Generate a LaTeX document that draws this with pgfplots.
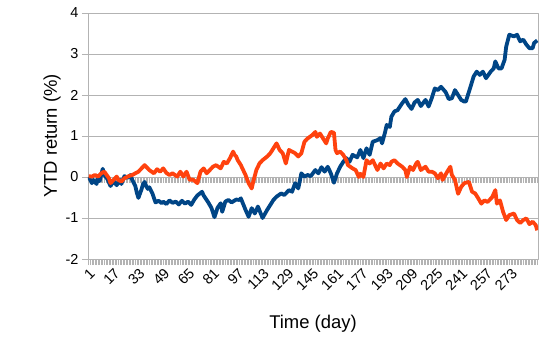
\documentclass[border=0pt]{standalone}
\usepackage{fontspec}
\setmainfont{Liberation Sans}
\usepackage{pgfplots}
\pgfplotsset{compat=1.18}
\definecolor{sone}{HTML}{004586}
\definecolor{stwo}{HTML}{FF420E}
\definecolor{gridc}{HTML}{B3B3B3}
\begin{document}
\begin{tikzpicture}
% extra tick row on the zero line
\begin{axis}[scale only axis, width=450bp, height=164bp,
  at={(0bp,82bp)}, anchor=south west,
  xmin=0.5, xmax=290.5, ymin=0, ymax=4,
  xtick={1,17,...,273}, minor xtick={1,...,290}, xticklabels={},
  ytick=\empty, xtick pos=bottom, tick align=outside,
  major tick length=6bp, minor tick length=6bp,
  tick style={gridc, line width=0.6bp},
  axis line style={draw=none}]
\end{axis}
\begin{axis}[name=ax, scale only axis, width=450bp, height=246bp,
  at={(0bp,0bp)}, anchor=south west,
  xmin=0.5, xmax=290.5, ymin=-2, ymax=4,
  ytick={-2,...,4}, ymajorgrids,
  grid style={gridc, line width=0.8bp},
  axis line style={gridc, line width=0.8bp},
  xtick={1,17,...,273}, minor xtick={1,...,290},
  xtick pos=bottom, ytick pos=left, tick align=outside,
  major tick length=6bp, minor tick length=6bp,
  tick style={gridc, line width=0.6bp},
  /pgf/number format/assume math mode=true,
  xticklabel style={rotate=45, anchor=north east, font=\fontsize{14.5}{14.5}\selectfont, inner sep=1.5bp},
  yticklabel style={font=\fontsize{14.5}{14.5}\selectfont},
  xlabel={Time (day)}, ylabel={YTD return (\%)},
  label style={font=\fontsize{18.5}{18.5}\selectfont},
  xlabel style={yshift=-18bp},
  ylabel style={yshift=-2bp},
  line join=round]
\addplot[sone, line width=3.8bp, no marks] coordinates {
(1,0)(3,-0.15)(4,-0.07)(6,-0.17)(7,-0.02)(8,-0.1)(10,0.2)(11,0.05)(13,-0.05)(15,-0.22)(17,-0.1)(19,-0.2)(21,-0.07)(22,-0.17)(24,0.02)(26,-0.02)(28,0.05)(29,-0.07)(31,-0.22)(32,-0.39)(33,-0.51)(35,-0.3)(36,-0.17)(37,-0.12)(38,-0.22)(39,-0.29)(40,-0.25)(42,-0.4)(44,-0.62)(46,-0.58)(48,-0.64)(49,-0.6)(51,-0.66)(53,-0.57)(55,-0.63)(57,-0.6)(59,-0.67)(61,-0.58)(63,-0.65)(65,-0.6)(67,-0.68)(69,-0.55)(71,-0.45)(74,-0.36)(75,-0.45)(78,-0.62)(80,-0.75)(82,-0.98)(84,-0.75)(86,-0.64)(87,-0.85)(89,-0.6)(91,-0.56)(93,-0.62)(96,-0.55)(98,-0.56)(99,-0.52)(102,-0.8)(104,-0.97)(106,-0.76)(108,-0.89)(110,-0.72)(113,-1.0)(116,-0.8)(118,-0.68)(120,-0.56)(122,-0.48)(125,-0.4)(127,-0.44)(130,-0.32)(132,-0.36)(134,-0.15)(136,-0.28)(138,0.09)(140,0.01)(142,0.05)(144,0.02)(147,0.17)(149,0.09)(151,0.24)(153,0.13)(155,0.25)(157,0.09)(159,-0.14)(161,0.09)(163,0.25)(165,0.37)(167,0.46)(169,0.37)(171,0.54)(174,0.48)(176,0.66)(178,0.46)(180,0.7)(182,0.54)(184,0.86)(187,0.9)(189,0.95)(190,0.82)(192,1.1)(193,1.27)(195,1.22)(196,1.47)(198,1.6)(200,1.63)(203,1.8)(205,1.9)(207,1.76)(209,1.66)(211,1.82)(213,1.88)(215,1.73)(218,1.88)(220,1.72)(222,1.92)(224,2.16)(226,2.12)(228,2.2)(231,2.07)(233,1.9)(235,1.92)(237,2.12)(239,2.0)(241,1.88)(243,1.84)(244,1.84)(247,2.2)(249,2.45)(251,2.57)(253,2.49)(255,2.57)(257,2.41)(260,2.57)(262,2.65)(263,2.82)(265,2.65)(267,2.65)(269,2.86)(270,3.18)(272,3.47)(275,3.43)(277,3.47)(279,3.31)(281,3.35)(283,3.23)(285,3.14)(287,3.14)(288,3.27)(290,3.33)
};
\addplot[stwo, line width=3.8bp, no marks] coordinates {
(1,0.02)(3,0.01)(5,0.05)(7,0.01)(9,0.09)(11,0.13)(14,-0.03)(15,-0.15)(17,-0.07)(19,0.01)(20,-0.07)(22,-0.11)(24,-0.03)(26,0.01)(29,0.05)(31,0.09)(33,0.13)(35,0.21)(37,0.29)(38,0.25)(40,0.17)(43,0.09)(45,0.19)(47,0.13)(49,0.21)(51,0.1)(53,0.05)(55,0.09)(58,0.01)(60,0.13)(62,0.01)(64,0.13)(66,-0.07)(68,-0.06)(71,-0.15)(73,0.13)(75,0.21)(77,0.09)(79,0.17)(81,0.25)(83,0.29)(86,0.21)(88,0.37)(90,0.33)(92,0.46)(94,0.62)(95,0.54)(96,0.5)(97,0.41)(99,0.29)(102,0.05)(104,-0.15)(106,-0.28)(107,-0.11)(109,0.17)(111,0.33)(113,0.41)(116,0.5)(118,0.58)(120,0.7)(122,0.82)(124,0.66)(126,0.58)(128,0.33)(130,0.66)(132,0.62)(134,0.58)(136,0.5)(138,0.58)(140,0.86)(142,0.94)(145,1.02)(147,1.1)(148,0.98)(150,1.06)(152,0.94)(154,0.82)(155,0.94)(157,1.1)(159,1.08)(160,0.66)(161,0.58)(163,0.62)(165,0.54)(167,0.41)(168,0.29)(171,0.21)(173,0.17)(175,0.0)(176,0.08)(178,0.0)(179,0.21)(180,0.41)(182,0.33)(184,0.41)(187,0.17)(189,0.33)(191,0.21)(193,0.33)(195,0.29)(196,0.37)(198,0.41)(200,0.33)(203,0.25)(205,0.17)(206,0.0)(208,0.25)(210,0.17)(212,0.33)(213,0.37)(215,0.17)(218,0.25)(220,0.13)(222,0.13)(224,0.09)(226,-0.03)(228,0.09)(229,-0.07)(232,0.13)(234,0.25)(235,0.05)(237,-0.07)(239,-0.41)(241,-0.24)(243,-0.15)(246,-0.12)(248,-0.36)(250,-0.4)(252,-0.52)(254,-0.65)(256,-0.57)(258,-0.61)(261,-0.49)(263,-0.32)(264,-0.65)(266,-0.57)(268,-0.85)(270,-1.05)(272,-0.93)(275,-0.89)(277,-1.05)(279,-1.12)(281,-1.05)(283,-1.01)(285,-1.15)(287,-1.09)(289,-1.17)(290,-1.3)
};
\end{axis}
\path (-88bp,-103bp) rectangle (461bp,259bp);
\end{tikzpicture}
\end{document}
